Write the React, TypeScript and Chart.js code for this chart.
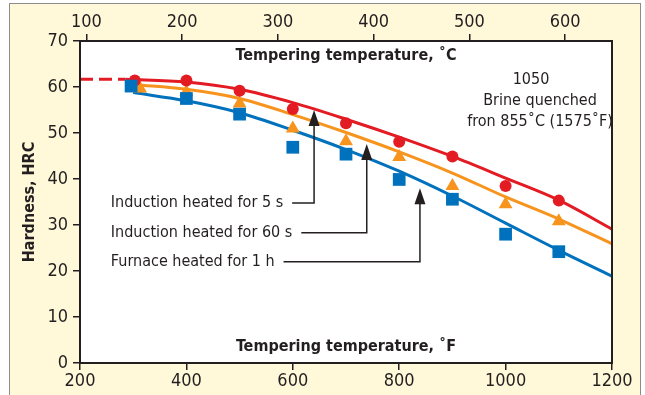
import React, { useEffect, useRef } from "react";
import { Chart, registerables } from "chart.js";
Chart.register(...registerables);

const FONT = "'Liberation Sans Narrow', 'Arial Narrow', 'DejaVu Sans Condensed', 'Liberation Sans', sans-serif";
const DARK = "#231f20";
const RED = "#e31b23";
const ORANGE = "#f7941d";
const BLUE = "#0071bc";

// Fitted curves (Tempering temperature °F -> Hardness HRC)
const redDashF = [200, 285];
const redDashHRC = [61.7, 61.7];
const redCurveF = [285, 400, 500, 600, 700, 800, 900, 1000, 1100, 1200];
const redCurveHRC = [61.7, 61.1, 59.5, 56.6, 53.0, 49.1, 44.9, 40.2, 35.4, 29.1];
const orangeCurveF = [303, 400, 500, 600, 700, 800, 900, 1000, 1100, 1200];
const orangeCurveHRC = [60.5, 59.5, 57.5, 54.0, 50.1, 45.9, 41.3, 36.1, 31.3, 25.9];
const blueCurveF = [300, 400, 500, 600, 700, 800, 900, 1000, 1100, 1200];
const blueCurveHRC = [58.8, 57.0, 54.4, 50.6, 46.4, 41.7, 36.3, 30.4, 24.5, 18.9];

// Measured points
const redPtsF = [303, 400, 500, 600, 700, 800, 900, 1000, 1100];
const redPtsHRC = [61.4, 61.4, 59.2, 55.2, 52.1, 48.1, 44.9, 38.5, 35.3];
const orangePtsF = [313, 400, 500, 600, 700, 800, 900, 1000, 1100];
const orangePtsHRC = [59.7, 58.9, 56.4, 51.0, 48.2, 44.8, 38.5, 34.5, 30.8];
const bluePtsF = [296, 400, 500, 600, 700, 800, 900, 1000, 1100];
const bluePtsHRC = [60.2, 57.5, 54.1, 46.9, 45.4, 39.9, 35.6, 28.0, 24.2];

// Axis ticks
const fTicks = [200, 400, 600, 800, 1000, 1200];
const cTicks = [100, 200, 300, 400, 500, 600];
const hrcTicks = [0, 10, 20, 30, 40, 50, 60, 70];

// Text
const titleC = "Tempering temperature, ˚C";
const titleF = "Tempering temperature, ˚F";
const titleY = "Hardness, HRC";
const noteLines = ["1050", "Brine quenched", "fron 855˚C (1575˚F)"];
const arrowLabels = ["Induction heated for 5 s", "Induction heated for 60 s", "Furnace heated for 1 h"];
const arrowLabelF = 258;
const arrowLabelHRC = [34.8, 28.3, 22.0];
const arrowF = [640, 739, 839];
const arrowTipHRC = [55.0, 47.6, 38.0];

const toC = (f: number) => ((f - 32) * 5) / 9;
const pts = (xs: number[], ys: number[]) => xs.map((x, i) => ({ x, y: ys[i] }));

const overlay = {
  id: "overlay",
  beforeDraw(chart: any) {
    const { ctx, chartArea: a } = chart;
    ctx.save();
    ctx.fillStyle = "#ffffff";
    ctx.fillRect(a.left, a.top, a.right - a.left, a.bottom - a.top);
    ctx.restore();
  },
  afterDraw(chart: any) {
    const { ctx, chartArea: a, scales } = chart;
    const xs = scales.x;
    const ys = scales.y;
    ctx.save();
    ctx.strokeStyle = DARK;
    ctx.lineWidth = 2;
    ctx.strokeRect(a.left, a.top, a.right - a.left, a.bottom - a.top);

    ctx.fillStyle = DARK;
    ctx.textAlign = "center";
    ctx.textBaseline = "middle";
    ctx.font = `bold 16px ${FONT}`;
    const cx = (a.left + a.right) / 2;
    ctx.fillText(titleC, cx, a.top + 15);
    ctx.fillText(titleF, cx, a.bottom - 16);
    ctx.save();
    ctx.translate(30, (a.top + a.bottom) / 2);
    ctx.rotate(-Math.PI / 2);
    ctx.fillText(titleY, 0, 0);
    ctx.restore();

    ctx.font = `16px ${FONT}`;
    const noteX = [531, 540, 540];
    noteLines.forEach((t, i) => ctx.fillText(t, noteX[i], 80 + i * 21));

    ctx.textAlign = "left";
    arrowLabels.forEach((t, i) => {
      const tx = xs.getPixelForValue(arrowLabelF);
      const ty = ys.getPixelForValue(arrowLabelHRC[i]);
      ctx.fillStyle = DARK;
      ctx.fillText(t, tx, ty);
      const w = ctx.measureText(t).width;
      const ax = xs.getPixelForValue(arrowF[i]);
      const tip = ys.getPixelForValue(arrowTipHRC[i]);
      ctx.strokeStyle = DARK;
      ctx.lineWidth = 1.5;
      ctx.beginPath();
      ctx.moveTo(tx + w + 9, ty);
      ctx.lineTo(ax, ty);
      ctx.lineTo(ax, tip + 12);
      ctx.stroke();
      ctx.beginPath();
      ctx.moveTo(ax, tip);
      ctx.lineTo(ax - 5.5, tip + 16);
      ctx.lineTo(ax + 5.5, tip + 16);
      ctx.closePath();
      ctx.fill();
    });
    ctx.restore();
  },
};

const tickFont = { family: FONT, size: 18 };
const plain = (v: any) => String(v);

export default function App() {
  const ref = useRef<HTMLCanvasElement>(null);
  useEffect(() => {
    if (!ref.current) return;
    const gridCfg = {
      drawOnChartArea: false,
      drawTicks: true,
      tickLength: 7,
      color: DARK,
      lineWidth: 1.5,
    };
    const borderCfg = { display: true, color: DARK, width: 2 };
    const chart = new Chart(ref.current, {
      type: "scatter",
      data: {
        datasets: [
          { data: pts(redDashF, redDashHRC), showLine: true, borderColor: RED, borderWidth: 3, borderDash: [13, 6], pointRadius: 0, order: 3 },
          { data: pts(redCurveF, redCurveHRC), showLine: true, borderColor: RED, borderWidth: 3, pointRadius: 0, cubicInterpolationMode: "monotone", order: 2 },
          { data: pts(orangeCurveF, orangeCurveHRC), showLine: true, borderColor: ORANGE, borderWidth: 3, pointRadius: 0, cubicInterpolationMode: "monotone", order: 2 },
          { data: pts(blueCurveF, blueCurveHRC), showLine: true, borderColor: BLUE, borderWidth: 3, pointRadius: 0, cubicInterpolationMode: "monotone", order: 2 },
          { data: pts(redPtsF, redPtsHRC), pointStyle: "circle", pointRadius: 6, backgroundColor: RED, borderWidth: 0, order: 1 },
          { data: pts(orangePtsF, orangePtsHRC), pointStyle: "triangle", pointRadius: 8, backgroundColor: ORANGE, borderWidth: 0, order: 1 },
          { data: pts(bluePtsF, bluePtsHRC), pointStyle: "rect", pointRadius: 9, backgroundColor: BLUE, borderWidth: 0, order: 0 },
        ],
      } as any,
      options: {
        animation: false,
        responsive: false,
        events: [],
        layout: { padding: { left: 0, right: 33, top: 0, bottom: 0 } },
        plugins: { legend: { display: false }, tooltip: { enabled: false } },
        scales: {
          x: {
            type: "linear",
            position: "bottom",
            min: 200,
            max: 1200,
            afterBuildTicks: (s: any) => { s.ticks = fTicks.map((v) => ({ value: v })); },
            afterFit: (s: any) => { s.height = 32; },
            ticks: { font: tickFont, color: DARK, padding: 1, maxRotation: 0, callback: plain },
            grid: gridCfg,
            border: borderCfg,
          },
          x2: {
            type: "linear",
            axis: "x",
            position: "top",
            min: toC(200),
            max: toC(1200),
            afterBuildTicks: (s: any) => { s.ticks = cTicks.map((v) => ({ value: v })); },
            afterFit: (s: any) => { s.height = 41; },
            ticks: { font: tickFont, color: DARK, padding: 1, maxRotation: 0, callback: plain },
            grid: gridCfg,
            border: borderCfg,
          },
          y: {
            type: "linear",
            min: 0,
            max: 70,
            afterBuildTicks: (s: any) => { s.ticks = hrcTicks.map((v) => ({ value: v })); },
            afterFit: (s: any) => { s.width = 80; },
            ticks: { font: tickFont, color: DARK, padding: 5, callback: plain },
            grid: gridCfg,
            border: borderCfg,
          },
        },
      } as any,
      plugins: [overlay],
    });
    return () => chart.destroy();
  }, []);

  return (
    <div style={{ position: "fixed", left: 0, top: 0, width: 645, height: 395, background: "#ffffff", overflow: "hidden" }}>
      <div
        style={{
          position: "absolute",
          left: 9,
          top: 3,
          width: 632,
          height: 420,
          boxSizing: "border-box",
          border: "1.5px solid #8c8c8c",
          background: "#fff9d9",
        }}
      />
      <canvas ref={ref} width={645} height={395} style={{ position: "absolute", left: 0, top: 0 }} />
    </div>
  );
}
